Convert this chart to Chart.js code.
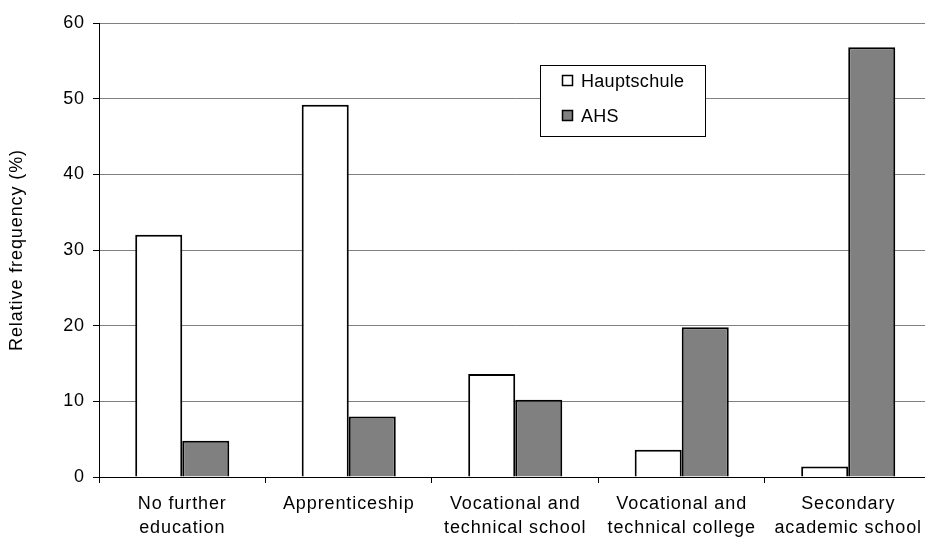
<!DOCTYPE html>
<html>
<head>
<meta charset="utf-8">
<script src="https://cdn.jsdelivr.net/npm/chart.js@4/dist/chart.umd.min.js"></script>
<style>
  html, body { margin: 0; padding: 0; background: #fff; overflow: hidden; }
  #wrap { width: 925px; height: 539px; overflow: hidden; }
</style>
</head>
<body>
<div id="wrap"><canvas id="grafico" width="932" height="539"></canvas></div>
<script>
const categorias = [
  ['No further', 'education'],
  'Apprenticeship',
  ['Vocational and', 'technical school'],
  ['Vocational and', 'technical college'],
  ['Secondary', 'academic school']
];
const hauptschule = [32.0, 49.2, 13.6, 3.6, 1.4];
const ahs = [4.8, 8.0, 10.2, 19.8, 56.8];
const ticksY = [0, 10, 20, 30, 40, 50, 60];

const fuente = { family: '"Liberation Sans", Arial, sans-serif', size: 18, lineHeight: 1.28 };

// letter spacing to mimic the wide text of the original
const espaciado = {
  id: 'espaciado',
  beforeUpdate(chart) { chart.ctx.letterSpacing = '0.9px'; },
  beforeDraw(chart) { chart.ctx.letterSpacing = '0.9px'; }
};

// legend box drawn inside the plot area
const leyenda = {
  id: 'leyenda',
  afterDraw(chart) {
    const ctx = chart.ctx;
    ctx.save();
    ctx.fillStyle = '#fff';
    ctx.fillRect(540.5, 65.5, 165, 71);
    ctx.strokeStyle = '#000';
    ctx.lineWidth = 1;
    ctx.strokeRect(540.5, 65.5, 165, 71);
    ctx.font = '18px "Liberation Sans", Arial, sans-serif';
    ctx.textBaseline = 'middle';
    ctx.letterSpacing = '0.3px';
    const filas = [81, 116];
    chart.data.datasets.forEach((ds, i) => {
      ctx.fillStyle = ds.backgroundColor;
      ctx.fillRect(562.5, filas[i] - 5.5, 10, 10);
      ctx.strokeStyle = '#000';
      ctx.lineWidth = 1.5;
      ctx.strokeRect(562.5, filas[i] - 5.5, 10, 10);
      ctx.fillStyle = '#000';
      ctx.fillText(ds.label, 581, filas[i] + 1);
    });
    ctx.restore();
  }
};

const ctx = document.getElementById('grafico').getContext('2d');

const grafico = new Chart(ctx, {
  type: 'bar',
  data: {
    labels: categorias,
    datasets: [
      {
        label: 'Hauptschule',
        data: hauptschule,
        backgroundColor: '#ffffff',
        borderColor: '#000000',
        borderWidth: 2
      },
      {
        label: 'AHS',
        data: ahs,
        backgroundColor: '#808080',
        borderColor: '#000000',
        borderWidth: 2
      }
    ]
  },
  options: {
    responsive: false,
    animation: false,
    layout: { padding: { top: 23, right: 0, left: 0, bottom: 0 } },
    datasets: {
      bar: { barPercentage: 1, categoryPercentage: 0.565 }
    },
    plugins: {
      legend: { display: false },
      tooltip: { enabled: false }
    },
    scales: {
      x: {
        grid: { drawOnChartArea: false, color: '#000', tickLength: 6, offset: true },
        border: { color: '#000', width: 1 },
        ticks: { color: '#000', font: fuente, padding: 10, maxRotation: 0, autoSkip: false },
        afterFit(scale) { scale.height = 62; }
      },
      y: {
        min: 0,
        max: 60,
        afterBuildTicks(scale) { scale.ticks = ticksY.map(v => ({ value: v })); },
        grid: { color: '#808080', tickColor: '#000', tickLength: 6 },
        border: { color: '#000', width: 1 },
        ticks: { color: '#000', font: fuente, padding: 8 },
        title: {
          display: true,
          text: 'Relative frequency (%)',
          color: '#000',
          font: { family: fuente.family, size: 18, lineHeight: 1.2 },
          padding: { top: 6, bottom: 0 }
        },
        afterFit(scale) { scale.width = 99; }
      }
    }
  },
  plugins: [espaciado, leyenda]
});
</script>
</body>
</html>
